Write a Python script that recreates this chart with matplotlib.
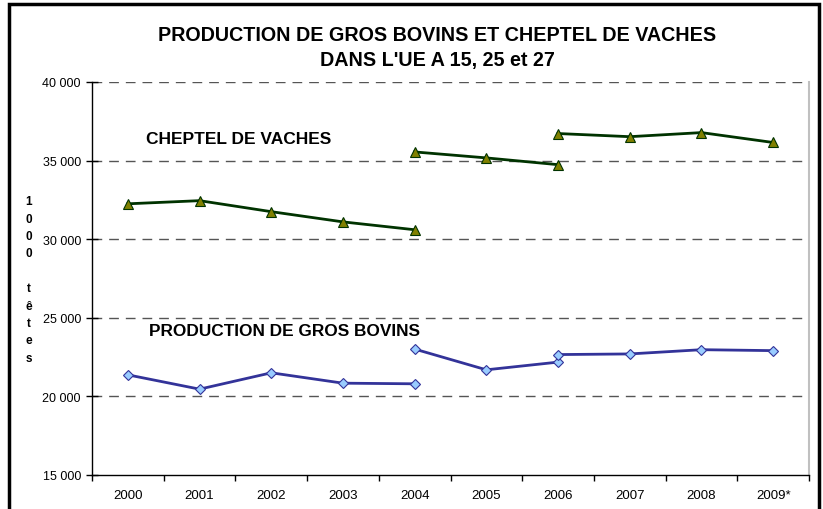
import matplotlib.pyplot as plt
import matplotlib.patches as mpatches
from matplotlib.ticker import FuncFormatter

plt.rcParams['font.family'] = ['Liberation Sans', 'DejaVu Sans']

annees = ['2000', '2001', '2002', '2003', '2004', '2005', '2006', '2007', '2008', '2009*']

# cheptel de vaches (1000 tetes) - UE 15, UE 25, UE 27
vaches_ue15 = [32250, 32450, 31750, 31100, 30600, None, None, None, None, None]
vaches_ue25 = [None, None, None, None, 35550, 35170, 34740, None, None, None]
vaches_ue27 = [None, None, None, None, None, None, 36720, 36520, 36780, 36150]

# production de gros bovins (1000 tetes)
bovins_ue15 = [21370, 20460, 21500, 20840, 20800, None, None, None, None, None]
bovins_ue25 = [None, None, None, None, 23010, 21690, 22180, None, None, None]
bovins_ue27 = [None, None, None, None, None, None, 22660, 22700, 22970, 22910]

fig = plt.figure(figsize=(8.23, 5.10), dpi=100)
ax = fig.add_axes([0.1118, 0.0667, 0.8712, 0.7706])

x = list(range(len(annees)))

def trace(serie, couleur, face, marq, taille):
    pts = [(i, v) for i, v in zip(x, serie) if v is not None]
    xs = [p[0] for p in pts]
    ys = [p[1] for p in pts]
    ax.plot(xs, ys, color=couleur, lw=2, marker=marq, markersize=taille,
            markerfacecolor=face, markeredgecolor=couleur, markeredgewidth=0.8,
            zorder=3)

for s in (vaches_ue15, vaches_ue25, vaches_ue27):
    trace(s, '#003300', '#808000', '^', 7.5)
for s in (bovins_ue15, bovins_ue25, bovins_ue27):
    trace(s, '#333399', '#99CCFF', 'D', 5.5)

ax.set_xlim(-0.5, 9.5)
ax.set_ylim(15000, 40000)
ax.set_yticks([15000, 20000, 25000, 30000, 35000, 40000])
ax.yaxis.set_major_formatter(FuncFormatter(lambda v, p: '{:,.0f}'.format(v).replace(',', ' ')))
ax.set_xticks(x)
ax.set_xticklabels(annees)
ax.set_xticks([i - 0.5 for i in range(len(annees) + 1)], minor=True)
ax.tick_params(axis='x', which='major', length=0, labelsize=9.5, pad=10)
ax.tick_params(axis='x', which='minor', length=4, width=1, direction='out')
ax.tick_params(axis='y', which='major', length=8, width=1, direction='inout', labelsize=9, pad=4)

for v in [20000, 25000, 30000, 35000, 40000]:
    ax.axhline(v, color='#555555', lw=1, ls=(0, (7, 5)), zorder=1)

ax.spines['top'].set_visible(False)
ax.spines['right'].set_color('#C0C0C0')
ax.spines['right'].set_linewidth(1.5)
ax.spines['left'].set_linewidth(1)
ax.spines['bottom'].set_linewidth(1)

ax.text(0.25, 36400, 'CHEPTEL DE VACHES', fontsize=12.5, fontweight='bold', va='center', ha='left')
ax.text(0.29, 24180, 'PRODUCTION DE GROS BOVINS', fontsize=12.4, fontweight='bold', va='center', ha='left')

fig.text(0.531, 0.931, 'PRODUCTION DE GROS BOVINS ET CHEPTEL DE VACHES', fontsize=14.2,
         fontweight='bold', ha='center', va='center')
fig.text(0.531, 0.882, "DANS L'UE A 15, 25 et 27", fontsize=14.2,
         fontweight='bold', ha='center', va='center')

fig.text(0.035, 0.45, '\n'.join(['1', '0', '0', '0', '', 't', 'ê', 't', 'e', 's']),
         fontsize=8.5, fontweight='bold', ha='center', va='center', linespacing=1.6)

cadre = mpatches.Rectangle((9 / 823, -0.1), 810 / 823, 1.1 - 5 / 510, transform=fig.transFigure,
                           fill=False, edgecolor='black', lw=2.5, clip_on=False)
fig.patches.append(cadre)

plt.savefig('out.png', dpi=100)
